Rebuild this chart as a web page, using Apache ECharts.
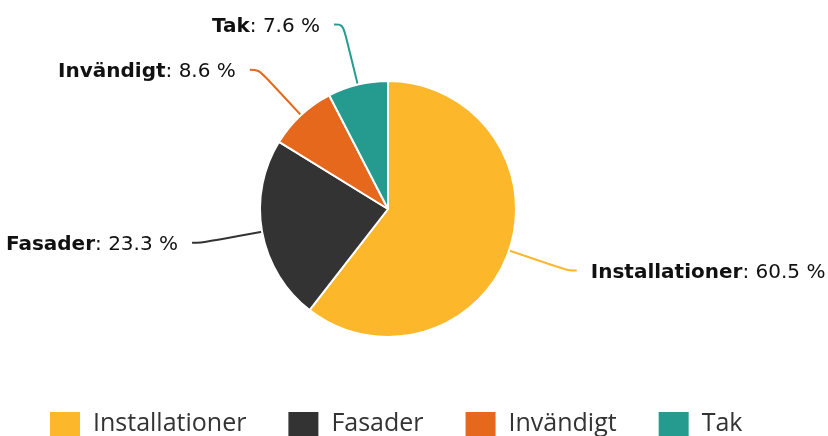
<!DOCTYPE html>
<html>
<head>
<meta charset="utf-8">
<script src="https://cdn.jsdelivr.net/npm/echarts@6/dist/echarts.min.js"></script>
<style>
  html, body { margin: 0; padding: 0; background: #fff; }
  #chart { width: 828px; height: 436px; }
</style>
</head>
<body>
<div id="chart"></div>
<script>
let categories = ['Installationer', 'Fasader', 'Invändigt', 'Tak'];
let shares = [60.5, 23.3, 8.6, 7.6];
let colors = ['#FDB72B', '#333333', '#E5681D', '#259B8F'];

let chartDom = document.getElementById('chart');
let myChart = echarts.init(chartDom);

let pieData = categories.map(function (name, i) {
    return { name: name, value: shares[i] };
});

let option = {
    animation: false,
    color: colors,
    textStyle: { fontFamily: 'DejaVu Sans' },
    legend: {
        data: categories,
        left: 43,
        top: 405,
        icon: 'rect',
        itemWidth: 32,
        itemHeight: 26,
        itemGap: 40,
        textStyle: {
            fontFamily: 'Open Sans',
            fontSize: 25,
            color: '#333',
            padding: [0, 0, 0, 7]
        }
    },
    series: [
        {
            type: 'pie',
            center: [388, 209],
            radius: [0, 128],
            startAngle: 90,
            clockwise: true,
            data: pieData,
            itemStyle: {
                borderColor: '#fff',
                borderWidth: 2
            },
            label: {
                show: true,
                overflow: 'none',
                edgeDistance: 0,
                distanceToLabelLine: 14,
                padding: [4, 0, 0, 0],
                formatter: function (p) {
                    return '{b|' + p.name + '}: ' + p.value.toFixed(1) + ' %';
                },
                fontFamily: 'DejaVu Sans',
                fontSize: 20,
                color: '#111',
                rich: {
                    b: {
                        fontFamily: 'DejaVu Sans',
                        fontWeight: 'bold',
                        fontSize: 20,
                        color: '#111'
                    }
                }
            },
            labelLine: {
                show: true,
                length: 62,
                length2: 9,
                smooth: 0.4,
                lineStyle: { width: 2 }
            }
        }
    ]
};

myChart.setOption(option);
</script>
</body>
</html>
